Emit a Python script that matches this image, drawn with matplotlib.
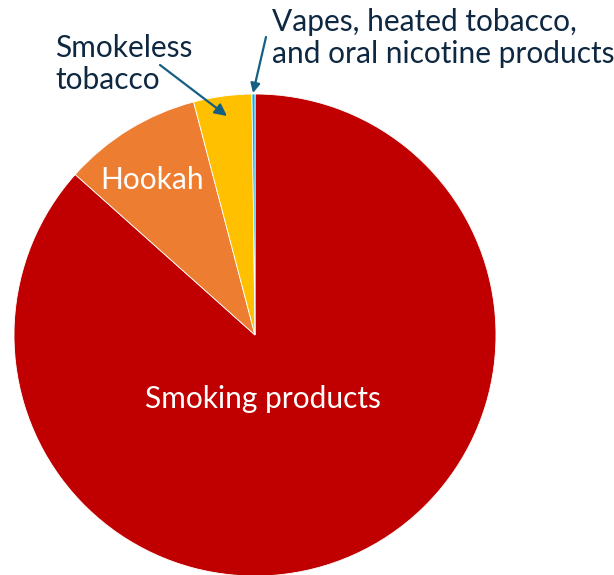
import matplotlib
matplotlib.use("Agg")
import matplotlib.pyplot as plt

categories = ["Smoking products", "Hookah", "Smokeless\ntobacco",
              "Vapes, heated tobacco,\nand oral nicotine products"]
values = [86.6, 9.3, 3.9, 0.2]
colors = ["#C00000", "#ED7D31", "#FFC000", "#00B0F0"]

plt.rcParams['font.family'] = ['Lato', 'DejaVu Sans']

W, H = 614, 575
fig = plt.figure(figsize=(W / 100, H / 100), dpi=100)
ax = fig.add_axes([0, 0, 1, 1])

cx, cy, r = 255, H - 335, 241
wedges, _ = ax.pie(values, colors=colors, startangle=90, counterclock=False,
                   center=(cx, cy), radius=r, frame=True,
                   wedgeprops=dict(linewidth=0.6, edgecolor='white'))
ax.set_xlim(0, W)
ax.set_ylim(0, H)
ax.set_aspect('equal')
ax.axis('off')

navy = "#0E2841"
arrow_c = "#156082"
fs = 21.5

ax.text(262.5, H - 399, categories[0], color='white', fontsize=fs,
        ha='center', va='center')
ax.text(152, H - 180, categories[1], color='white', fontsize=fs,
        ha='center', va='center')
ax.text(55, H - 64, categories[2], color=navy, fontsize=fs,
        ha='left', va='center', linespacing=1.2)
ax.text(272, H - 38, categories[3], color=navy, fontsize=fs,
        ha='left', va='center', linespacing=1.2)

ax.annotate("", xy=(227, H - 116), xytext=(160, H - 65),
            arrowprops=dict(arrowstyle='-|>', color=arrow_c, lw=1.6,
                            mutation_scale=18, shrinkA=0, shrinkB=0))
ax.annotate("", xy=(253, H - 93), xytext=(266, H - 37),
            arrowprops=dict(arrowstyle='-|>', color=arrow_c, lw=1.6,
                            mutation_scale=14, shrinkA=0, shrinkB=0))

fig.savefig("out.png", dpi=100)
